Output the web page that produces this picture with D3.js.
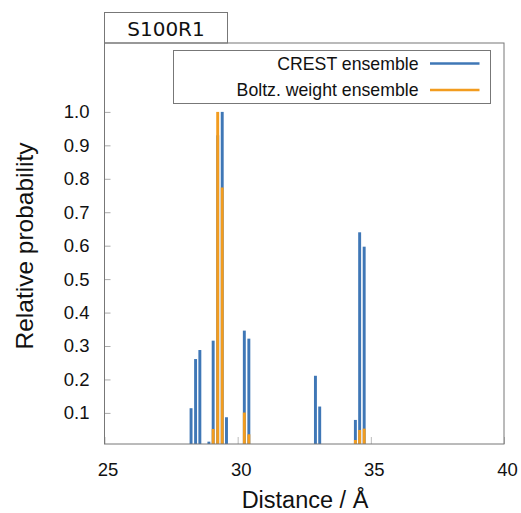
<!DOCTYPE html>
<html>
<head>
<meta charset="utf-8">
<script src="https://cdn.jsdelivr.net/npm/d3@7"></script>
<style>
    body { margin: 0; background: #fff; }
    text { font-family: "Liberation Sans", Arial, sans-serif; fill: #111; }
</style>
</head>
<body>
<div id="chart"></div>
<script>

// Bin centres (Å) and relative probabilities
const distances = [28.25, 28.42, 28.58, 28.92, 29.08, 29.25, 29.42, 29.58, 30.25, 30.42, 32.92, 33.08, 34.42, 34.58, 34.75];
const crest = [0.114, 0.261, 0.288, 0.014, 0.316, 0.93, 1.0, 0.087, 0.346, 0.322, 0.211, 0.119, 0.079, 0.640, 0.597];
const boltz = [0, 0, 0, 0, 0.052, 1.0, 0.774, 0, 0.101, 0.036, 0, 0, 0.019, 0.049, 0.053];

const xTicks = [25, 30, 35, 40];
const yTicks = [0.1, 0.2, 0.3, 0.4, 0.5, 0.6, 0.7, 0.8, 0.9, 1.0];
const seriesNames = ["CREST ensemble", "Boltz. weight ensemble"];
const colours = ["#3f77b6", "#f29c1f"];

const W = 521, H = 513;
const plot = { left: 104.5, right: 504, top: 43, bottom: 444 };
const barHalf = 0.055;

const svg = d3.select("#chart")
    .append("svg")
    .attr("width", W)
    .attr("height", H);

// Scales
const x = d3.scaleLinear()
    .domain([25, 40])
    .range([plot.left, plot.right]);
const y = d3.scaleLinear()
    .domain([0.007, 1.206])
    .range([plot.bottom, plot.top]);

// Title tab
svg.append("rect")
    .attr("x", 104.5).attr("y", 12.5)
    .attr("width", 123).attr("height", 30.5)
    .attr("fill", "#fff").attr("stroke", "#777");
svg.append("text")
    .attr("x", 166).attr("y", 36)
    .attr("text-anchor", "middle")
    .style("font-family", "'DejaVu Sans', sans-serif")
    .style("font-size", "20px")
    .text("S100R1");

// Bars (clipped to the plot area)
svg.append("clipPath").attr("id", "clip")
    .append("rect")
    .attr("x", plot.left).attr("y", plot.top)
    .attr("width", plot.right - plot.left).attr("height", plot.bottom - plot.top);

const bars = svg.append("g").attr("clip-path", "url(#clip)");
[crest, boltz].forEach((vals, i) => {
    bars.append("g")
        .selectAll("rect")
        .data(distances.map((d, j) => ({ d: d, v: vals[j] })).filter((p) => p.v > y.domain()[0]))
        .enter()
        .append("rect")
        .attr("x", (p) => x(p.d - barHalf))
        .attr("width", (p) => x(p.d + barHalf) - x(p.d - barHalf))
        .attr("y", (p) => y(p.v))
        .attr("height", (p) => plot.bottom - y(p.v))
        .attr("fill", colours[i]);
});

// Y axis, ticks pointing inward
const yAxis = svg.append("g")
    .attr("transform", `translate(${plot.left}, 0)`)
    .call(d3.axisLeft(y).tickValues(yTicks).tickFormat(d3.format(".1f")).tickSize(-6).tickPadding(15));
yAxis.select(".domain").remove();
yAxis.selectAll("line").attr("stroke", "#aaa");
yAxis.selectAll("text")
    .style("font-family", "'Liberation Sans', Arial, sans-serif")
    .style("font-size", "18.5px")
    .attr("fill", "#111");

// X axis
const xAxis = svg.append("g")
    .attr("transform", `translate(0, ${plot.bottom})`)
    .call(d3.axisBottom(x).tickValues(xTicks).tickSize(-7).tickPadding(19));
xAxis.select(".domain").remove();
xAxis.selectAll("line").attr("stroke", "#bbb");
xAxis.selectAll("text")
    .attr("dx", 3)
    .style("font-family", "'Liberation Sans', Arial, sans-serif")
    .style("font-size", "18.5px")
    .attr("fill", "#111");

// Frame
svg.append("rect")
    .attr("x", plot.left).attr("y", plot.top)
    .attr("width", plot.right - plot.left).attr("height", plot.bottom - plot.top)
    .attr("fill", "none").attr("stroke", "#777");

// Legend
svg.append("rect")
    .attr("x", 173.5).attr("y", 50.5)
    .attr("width", 317).attr("height", 53)
    .attr("fill", "#fff").attr("stroke", "#777");
const legend = svg.append("g")
    .selectAll("g")
    .data(seriesNames)
    .enter()
    .append("g")
    .attr("transform", (d, i) => `translate(0, ${63.5 + i * 26.5})`);
legend.append("text")
    .attr("x", 418.5).attr("y", 6)
    .attr("text-anchor", "end")
    .style("font-size", "17.7px")
    .text((d) => d);
legend.append("line")
    .attr("x1", 430).attr("x2", 479.5)
    .attr("stroke", (d, i) => colours[i])
    .attr("stroke-width", 2.6);

// Axis titles
svg.append("text")
    .attr("x", 305).attr("y", 508)
    .attr("text-anchor", "middle")
    .style("font-size", "23.5px")
    .text("Distance / Å");
svg.append("text")
    .attr("transform", "translate(33, 246) rotate(-90)")
    .attr("text-anchor", "middle")
    .style("font-size", "24.5px")
    .text("Relative probability");

</script>
</body>
</html>
